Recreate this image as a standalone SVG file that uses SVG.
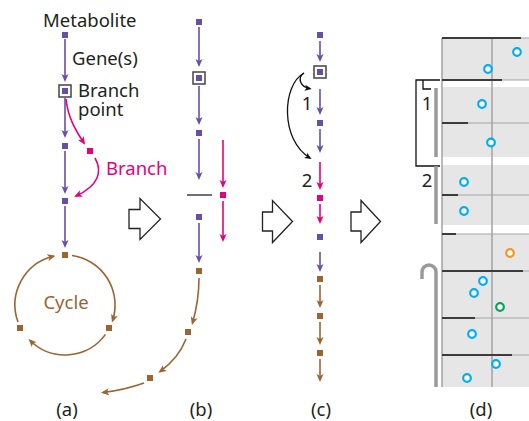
<svg xmlns="http://www.w3.org/2000/svg" xmlns:xlink="http://www.w3.org/1999/xlink" width="529" height="421" viewBox="0 0 529 421">
<style>
text{font-family:"Noto Sans","Open Sans",sans-serif;font-size:18.5px;fill:#231f20}
.pur{fill:#674ea7}.pink{fill:#e6007e}.brn{fill:#9b6431}
.lp{stroke:#674ea7;stroke-width:1.6;fill:none;marker-end:url(#mp)}
.lk{stroke:#e6007e;stroke-width:1.6;fill:none;marker-end:url(#mk)}
.lb{stroke:#9b6431;stroke-width:1.6;fill:none;marker-end:url(#mb)}
.lx{stroke:#111;stroke-width:1.3;fill:none;marker-end:url(#mx)}
.box{fill:#fff;stroke:#444;stroke-width:1.5}
.hol{fill:#fff;stroke:#222;stroke-width:1.3}
.band{fill:#e6e6e6}
.gl{stroke:#a3a3a3;stroke-width:1.2;fill:none}
.dl{stroke:#3c3c3c;stroke-width:2;fill:none}
.ring{fill:#fff;stroke-width:2.2}
.gbar{stroke:#9a9a9a;stroke-width:3.5;fill:none}
</style>
<defs>
<rect id="sq" x="-3" y="-3" width="6" height="6"/>
<marker id="mp" viewBox="0 0 8 8" markerWidth="8" markerHeight="8" refX="6" refY="4" orient="auto" markerUnits="userSpaceOnUse"><path d="M0,0.5 L8,4 L0,7.5 L2,4 Z" fill="#674ea7"/></marker>
<marker id="mk" viewBox="0 0 8 8" markerWidth="8" markerHeight="8" refX="6" refY="4" orient="auto" markerUnits="userSpaceOnUse"><path d="M0,0.5 L8,4 L0,7.5 L2,4 Z" fill="#e6007e"/></marker>
<marker id="mb" viewBox="0 0 8 8" markerWidth="8" markerHeight="8" refX="6" refY="4" orient="auto" markerUnits="userSpaceOnUse"><path d="M0,0.5 L8,4 L0,7.5 L2,4 Z" fill="#9b6431"/></marker>
<marker id="mx" viewBox="0 0 8 8" markerWidth="7" markerHeight="7" refX="6" refY="4" orient="auto" markerUnits="userSpaceOnUse"><path d="M0,0.5 L8,4 L0,7.5 L2,4 Z" fill="#111"/></marker>
</defs>
<rect width="529" height="421" fill="#fff"/>

<!-- connectors -->
<g id="connectors">
 <!-- panel a -->
 <path class="lp" d="M65,39 V80"/>
 <path class="lp" d="M65,98 V136"/>
 <path class="lp" d="M65,151 V192"/>
 <path class="lp" d="M65,206 V246"/>
 <path class="lk" d="M66,99 C68,118 76,131 84,143"/>
 <path class="lk" d="M95,158 C103,172 98,186 76,196"/>
 <path class="lb" d="M72,255.5 A50,50 0 0 1 112.6,320.5"/>
 <path class="lb" d="M105.5,334.4 A50,50 0 0 1 30,340.5"/>
 <path class="lb" d="M18,322.1 A50,50 0 0 1 53.5,256.3"/>
 <!-- panel b -->
 <path class="lp" d="M199,27 V65"/>
 <path class="lp" d="M199,86 V123"/>
 <path class="lp" d="M199,139 V178"/>
 <path d="M187,195 H212" stroke="#222" stroke-width="1.3"/>
 <path class="lk" d="M223,140 V186"/>
 <path class="lk" d="M223,201 V240"/>
 <path class="lp" d="M199,223 V261"/>
 <path class="lb" d="M199,278 C199,298 196,311 192.5,323"/>
 <path class="lb" d="M186,339 C181,352 172,363 160,371.5"/>
 <path class="lb" d="M144,383 C130,388 116,391 103,392.5"/>
 <!-- panel c -->
 <path class="lp" d="M320,41 V60"/>
 <path class="lp" d="M320,89 V113"/>
 <path class="lp" d="M320,129 V151"/>
 <path class="lk" d="M320,162 V188"/>
 <path class="lk" d="M320,204 V222"/>
 <path class="lp" d="M320,252 V270"/>
 <path class="lb" d="M320,285 V306"/>
 <path class="lb" d="M320,322 V343"/>
 <path class="lb" d="M320,359 V380"/>
 <path class="lx" d="M304,73 C297,78 300,87 310,88.6"/>
 <path class="lx" d="M304,73 C282,85 280,140 310,158"/>
</g>

<!-- panel a nodes -->
<g id="a-metabolite"><use xlink:href="#sq" class="pur" x="65" y="35"/><text x="43" y="27">Metabolite</text></g>
<text x="72" y="65">Gene(s)</text>
<g id="a-branchpoint"><rect class="box" x="59" y="85" width="12" height="12"/><use xlink:href="#sq" class="pur" x="65" y="91"/><text x="78" y="97">Branch<tspan x="78" dy="18.5">point</tspan></text></g>
<g id="a-n3"><use xlink:href="#sq" class="pur" x="65" y="146"/></g>
<g id="a-branch"><use xlink:href="#sq" class="pink" x="90" y="151"/><text x="106" y="175" style="fill:#e6007e">Branch</text></g>
<g id="a-n4"><use xlink:href="#sq" class="pur" x="65" y="201"/></g>
<g id="a-cycle">
 <use xlink:href="#sq" class="brn" x="65" y="255"/>
 <use xlink:href="#sq" class="brn" x="109" y="328"/>
 <use xlink:href="#sq" class="brn" x="20" y="328"/>
 <text x="66" y="309" text-anchor="middle" style="fill:#9b6431">Cycle</text>
</g>
<text x="67" y="416" text-anchor="middle">(a)</text>

<!-- transition arrows -->
<g id="arrow1"><path class="hol" d="M129,209.5 H140 V198.5 L160.5,219 L140,239.5 V228.5 H129 Z"/></g>
<g id="arrow2"><path class="hol" d="M262.5,212 H272.5 V200.5 L292.5,221.5 L272.5,242.5 V231 H262.5 Z"/></g>
<g id="arrow3"><path class="hol" d="M351,212 H361 V200.5 L380.5,221.5 L361,242.5 V231 H351 Z"/></g>

<!-- panel b nodes -->
<g id="b-nodes">
 <use xlink:href="#sq" class="pur" x="199" y="22"/>
 <rect class="box" x="193" y="72" width="12" height="12"/><use xlink:href="#sq" class="pur" x="199" y="78"/>
 <use xlink:href="#sq" class="pur" x="199" y="133"/>
 <use xlink:href="#sq" class="pink" x="223" y="195"/>
 <use xlink:href="#sq" class="pur" x="199" y="217"/>
 <use xlink:href="#sq" class="brn" x="199" y="271"/>
 <use xlink:href="#sq" class="brn" x="188" y="332"/>
 <use xlink:href="#sq" class="brn" x="150" y="378"/>
</g>
<text x="201" y="416" text-anchor="middle">(b)</text>

<!-- panel c nodes -->
<g id="c-nodes">
 <use xlink:href="#sq" class="pur" x="320" y="35"/>
 <rect class="box" x="314" y="66" width="12" height="12"/><use xlink:href="#sq" class="pur" x="320" y="72"/>
 <use xlink:href="#sq" class="pur" x="320" y="123"/>
 <use xlink:href="#sq" class="pink" x="320" y="198"/>
 <use xlink:href="#sq" class="pur" x="320" y="237"/>
 <use xlink:href="#sq" class="brn" x="320" y="279"/>
 <use xlink:href="#sq" class="brn" x="320" y="316"/>
 <use xlink:href="#sq" class="brn" x="320" y="353"/>
 <text x="307" y="110" text-anchor="middle">1</text>
 <text x="307" y="187" text-anchor="middle">2</text>
</g>
<text x="321" y="416" text-anchor="middle">(c)</text>

<!-- panel d -->
<g id="d-chart">
 <rect class="band" x="442" y="38" width="87" height="42"/>
 <rect class="band" x="442" y="87" width="87" height="70"/>
 <rect class="band" x="442" y="165" width="87" height="60"/>
 <rect class="band" x="442" y="234" width="87" height="153"/>
 <path class="gl" d="M442,38 H529 M442,80 H529 M442,123 H529 M442,195 H529 M442,234 H529 M442,271 H529 M442,318 H529 M442,355 H529"/>
 <path class="gl" d="M442,38 V387 M492,38 V387" style="stroke-width:1.5"/>
 <path class="dl" d="M442,38 H521 M442,80 H502 M442,123 H468 M442,195 H458 M442,234 H456 M442,271 H523 M442,318 H475 M442,355 H512"/>
 <g stroke="#00aeef">
  <circle class="ring" cx="517" cy="52" r="3.8"/>
  <circle class="ring" cx="488" cy="69" r="3.8"/>
  <circle class="ring" cx="482" cy="104" r="3.8"/>
  <circle class="ring" cx="491" cy="142.5" r="3.8"/>
  <circle class="ring" cx="464" cy="182" r="3.8"/>
  <circle class="ring" cx="464" cy="211" r="3.8"/>
  <circle class="ring" cx="483" cy="281" r="3.8"/>
  <circle class="ring" cx="474" cy="293" r="3.8"/>
  <circle class="ring" cx="472" cy="334" r="3.8"/>
  <circle class="ring" cx="496" cy="364" r="3.8"/>
  <circle class="ring" cx="467" cy="378" r="3.8"/>
 </g>
 <circle class="ring" cx="510" cy="253" r="3.8" stroke="#f7941d"/>
 <circle class="ring" cx="500" cy="307" r="3.8" stroke="#00a651"/>
</g>
<g id="d-annotations">
 <path d="M440,80 H416 V166 H440 M423,80 V89 H431" stroke="#111" stroke-width="1.3" fill="none"/>
 <path class="gbar" d="M436,88 V157"/>
 <path class="gbar" d="M436,166 V224"/>
 <path class="gbar" d="M436,387 V272 A7,7 0 0 0 422,272 V279"/>
 <text x="427" y="110" text-anchor="middle">1</text>
 <text x="427" y="187" text-anchor="middle">2</text>
</g>
<text x="481" y="416" text-anchor="middle">(d)</text>
</svg>
